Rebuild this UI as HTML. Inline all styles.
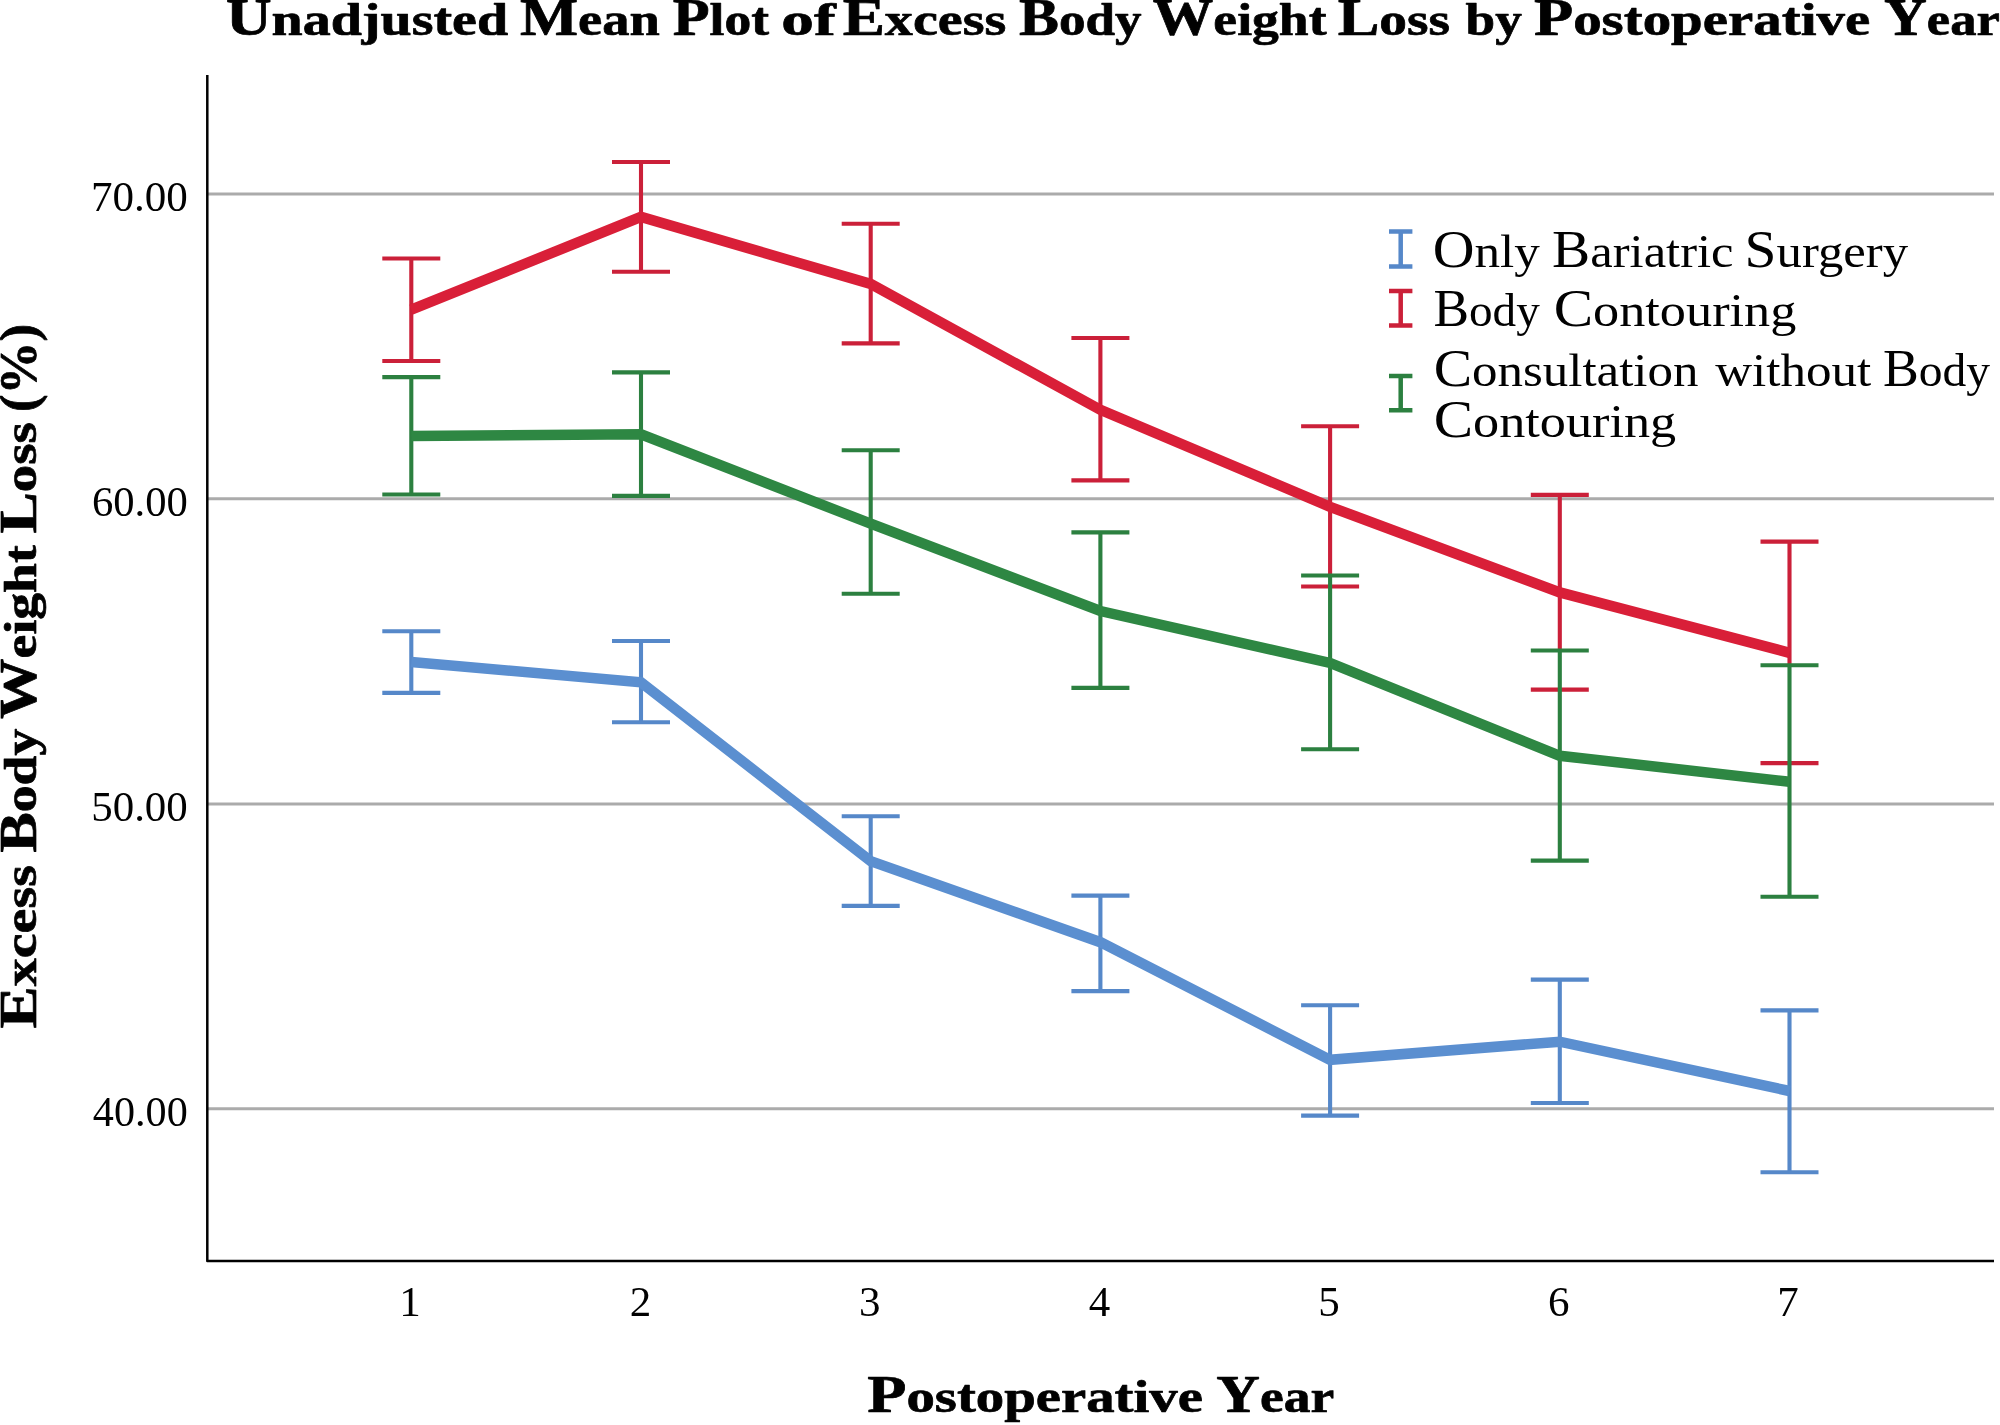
<!DOCTYPE html>
<html><head><meta charset="utf-8"><title>Unadjusted Mean Plot of Excess Body Weight Loss by Postoperative Year</title>
<style>
html,body{margin:0;padding:0;background:#fff;}
body{width:2000px;height:1425px;overflow:hidden;position:relative;font-family:"Liberation Serif",serif;}
</style></head><body>
<svg width="2000" height="1425" viewBox="0 0 2000 1425" style="position:absolute;left:0;top:0">
<rect width="2000" height="1425" fill="#fff"/>
<line x1="208" y1="194.0" x2="1994" y2="194.0" stroke="#ababab" stroke-width="3.1"/>
<line x1="208" y1="498.8" x2="1994" y2="498.8" stroke="#ababab" stroke-width="3.1"/>
<line x1="208" y1="804.0" x2="1994" y2="804.0" stroke="#ababab" stroke-width="3.1"/>
<line x1="208" y1="1108.7" x2="1994" y2="1108.7" stroke="#ababab" stroke-width="3.1"/>
<path d="M382.30 631.20H440.30M382.30 692.90H440.30M411.30 631.20V692.90" stroke="#5688c9" stroke-width="4.1" fill="none"/>
<path d="M612.00 641.00H670.00M612.00 722.30H670.00M641.00 641.00V722.30" stroke="#5688c9" stroke-width="4.1" fill="none"/>
<path d="M841.70 816.30H899.70M841.70 905.90H899.70M870.70 816.30V905.90" stroke="#5688c9" stroke-width="4.1" fill="none"/>
<path d="M1071.40 895.60H1129.40M1071.40 991.10H1129.40M1100.40 895.60V991.10" stroke="#5688c9" stroke-width="4.1" fill="none"/>
<path d="M1301.10 1005.20H1359.10M1301.10 1115.60H1359.10M1330.10 1005.20V1115.60" stroke="#5688c9" stroke-width="4.1" fill="none"/>
<path d="M1530.80 979.60H1588.80M1530.80 1103.00H1588.80M1559.80 979.60V1103.00" stroke="#5688c9" stroke-width="4.1" fill="none"/>
<path d="M1760.50 1010.40H1818.50M1760.50 1172.30H1818.50M1789.50 1010.40V1172.30" stroke="#5688c9" stroke-width="4.1" fill="none"/>
<path d="M382.30 258.50H440.30M382.30 361.00H440.30M411.30 258.50V361.00" stroke="#cb2039" stroke-width="4.1" fill="none"/>
<path d="M612.00 162.00H670.00M612.00 271.80H670.00M641.00 162.00V271.80" stroke="#cb2039" stroke-width="4.1" fill="none"/>
<path d="M841.70 223.70H899.70M841.70 343.40H899.70M870.70 223.70V343.40" stroke="#cb2039" stroke-width="4.1" fill="none"/>
<path d="M1071.40 338.00H1129.40M1071.40 480.40H1129.40M1100.40 338.00V480.40" stroke="#cb2039" stroke-width="4.1" fill="none"/>
<path d="M1301.10 426.30H1359.10M1301.10 586.50H1359.10M1330.10 426.30V575.50" stroke="#cb2039" stroke-width="4.1" fill="none"/>
<path d="M1530.80 494.90H1588.80M1530.80 689.60H1588.80M1559.80 494.90V650.50" stroke="#cb2039" stroke-width="4.1" fill="none"/>
<path d="M1760.50 541.60H1818.50M1760.50 763.10H1818.50M1789.50 541.60V665.30" stroke="#cb2039" stroke-width="4.1" fill="none"/>
<path d="M382.30 377.10H440.30M382.30 494.50H440.30M411.30 377.10V494.50" stroke="#2c8040" stroke-width="4.1" fill="none"/>
<path d="M612.00 372.40H670.00M612.00 495.90H670.00M641.00 372.40V495.90" stroke="#2c8040" stroke-width="4.1" fill="none"/>
<path d="M841.70 450.30H899.70M841.70 593.80H899.70M870.70 450.30V593.80" stroke="#2c8040" stroke-width="4.1" fill="none"/>
<path d="M1071.40 532.40H1129.40M1071.40 687.90H1129.40M1100.40 532.40V687.90" stroke="#2c8040" stroke-width="4.1" fill="none"/>
<path d="M1301.10 575.50H1359.10M1301.10 749.30H1359.10M1330.10 575.50V749.30" stroke="#2c8040" stroke-width="4.1" fill="none"/>
<path d="M1530.80 650.50H1588.80M1530.80 860.60H1588.80M1559.80 650.50V860.60" stroke="#2c8040" stroke-width="4.1" fill="none"/>
<path d="M1760.50 665.30H1818.50M1760.50 896.70H1818.50M1789.50 665.30V896.70" stroke="#2c8040" stroke-width="4.1" fill="none"/>
<polyline points="411.30,662.00 641.00,682.30 870.70,861.20 1100.40,942.20 1330.10,1059.80 1559.80,1041.70 1789.50,1091.00" stroke="#5b8fd0" stroke-width="10.5" fill="none" stroke-linejoin="miter" stroke-miterlimit="10" stroke-linecap="butt"/>
<polyline points="411.30,436.10 641.00,434.30 870.70,523.70 1100.40,611.00 1330.10,663.00 1559.80,755.80 1789.50,781.80" stroke="#2e8743" stroke-width="10.5" fill="none" stroke-linejoin="miter" stroke-miterlimit="10" stroke-linecap="butt"/>
<polyline points="411.30,309.70 641.00,216.90 870.70,284.00 1100.40,409.80 1330.10,506.80 1559.80,592.40 1789.50,652.80" stroke="#d91f38" stroke-width="10.5" fill="none" stroke-linejoin="miter" stroke-miterlimit="10" stroke-linecap="butt"/>
<path d="M207.3 75V1261H1994" stroke="#000" stroke-width="2.5" fill="none" stroke-linejoin="round"/>
<g opacity="0.999">
<text transform="translate(225.92 35.00) scale(1.2044 1.0)" font-family="Liberation Serif, serif" font-weight="bold" stroke="#000" stroke-width="0.7" stroke-linejoin="round"><tspan font-size="52.5">U</tspan><tspan font-size="46.5">nadjusted</tspan></text>
<text transform="translate(519.92 35.00) scale(1.1726 1.0)" font-family="Liberation Serif, serif" font-weight="bold" stroke="#000" stroke-width="0.7" stroke-linejoin="round"><tspan font-size="52.5">M</tspan><tspan font-size="46.5">ean</tspan></text>
<text transform="translate(672.69 35.00) scale(1.1510 1.0)" font-family="Liberation Serif, serif" font-weight="bold" stroke="#000" stroke-width="0.7" stroke-linejoin="round"><tspan font-size="52.5">P</tspan><tspan font-size="46.5">lot</tspan></text>
<text transform="translate(781.30 35.00) scale(1.4025 1.0)" font-family="Liberation Serif, serif" font-weight="bold" font-size="46.5" stroke="#000" stroke-width="0.7" stroke-linejoin="round">of</text>
<text transform="translate(842.64 35.00) scale(1.2058 1.0)" font-family="Liberation Serif, serif" font-weight="bold" stroke="#000" stroke-width="0.7" stroke-linejoin="round"><tspan font-size="52.5">E</tspan><tspan font-size="46.5">xcess</tspan></text>
<text transform="translate(1018.95 35.00) scale(1.1403 1.0)" font-family="Liberation Serif, serif" font-weight="bold" stroke="#000" stroke-width="0.7" stroke-linejoin="round"><tspan font-size="52.5">B</tspan><tspan font-size="46.5">ody</tspan></text>
<text transform="translate(1152.84 35.00) scale(1.1531 1.0)" font-family="Liberation Serif, serif" font-weight="bold" stroke="#000" stroke-width="0.7" stroke-linejoin="round"><tspan font-size="52.5">W</tspan><tspan font-size="46.5">eight</tspan></text>
<text transform="translate(1337.66 35.00) scale(1.1898 1.0)" font-family="Liberation Serif, serif" font-weight="bold" stroke="#000" stroke-width="0.7" stroke-linejoin="round"><tspan font-size="52.5">L</tspan><tspan font-size="46.5">oss</tspan></text>
<text transform="translate(1465.58 35.00) scale(1.1456 1.0)" font-family="Liberation Serif, serif" font-weight="bold" font-size="46.5" stroke="#000" stroke-width="0.7" stroke-linejoin="round">by</text>
<text transform="translate(1533.88 35.00) scale(1.2238 1.0)" font-family="Liberation Serif, serif" font-weight="bold" stroke="#000" stroke-width="0.7" stroke-linejoin="round"><tspan font-size="52.5">P</tspan><tspan font-size="46.5">ostoperative</tspan></text>
<text transform="translate(1883.96 35.00) scale(1.1309 1.0)" font-family="Liberation Serif, serif" font-weight="bold" stroke="#000" stroke-width="0.7" stroke-linejoin="round"><tspan font-size="52.5">Y</tspan><tspan font-size="46.5">ear</tspan></text>
<text transform="translate(867.28 1412.00) scale(1.2214 1.0)" font-family="Liberation Serif, serif" font-weight="bold" stroke="#000" stroke-width="0.7" stroke-linejoin="round"><tspan font-size="52.5">P</tspan><tspan font-size="46.5">ostoperative</tspan></text>
<text transform="translate(1216.24 1412.00) scale(1.1513 1.0)" font-family="Liberation Serif, serif" font-weight="bold" stroke="#000" stroke-width="0.7" stroke-linejoin="round"><tspan font-size="52.5">Y</tspan><tspan font-size="46.5">ear</tspan></text>
<text transform="translate(35.80 1028.51) rotate(-90) scale(1.2047 1.0)" font-family="Liberation Serif, serif" font-weight="bold" stroke="#000" stroke-width="0.7" stroke-linejoin="round"><tspan font-size="52.5">E</tspan><tspan font-size="46.5">xcess</tspan></text>
<text transform="translate(35.80 852.56) rotate(-90) scale(1.1525 1.0)" font-family="Liberation Serif, serif" font-weight="bold" stroke="#000" stroke-width="0.7" stroke-linejoin="round"><tspan font-size="52.5">B</tspan><tspan font-size="46.5">ody</tspan></text>
<text transform="translate(35.80 718.91) rotate(-90) scale(1.1531 1.0)" font-family="Liberation Serif, serif" font-weight="bold" stroke="#000" stroke-width="0.7" stroke-linejoin="round"><tspan font-size="52.5">W</tspan><tspan font-size="46.5">eight</tspan></text>
<text transform="translate(35.80 533.59) rotate(-90) scale(1.1811 1.0)" font-family="Liberation Serif, serif" font-weight="bold" stroke="#000" stroke-width="0.7" stroke-linejoin="round"><tspan font-size="52.5">L</tspan><tspan font-size="46.5">oss</tspan></text>
<text transform="translate(35.80 411.98) rotate(-90) scale(1.0070 1.0)" font-family="Liberation Serif, serif" font-weight="bold" font-size="52.5" stroke="#000" stroke-width="0.7" stroke-linejoin="round">(%)</text>
<text transform="translate(90.90 211.30) scale(1.0017 1.0)" font-family="Liberation Serif, serif" font-size="43">70.00</text>
<text transform="translate(91.89 516.10) scale(0.9913 1.0)" font-family="Liberation Serif, serif" font-size="43">60.00</text>
<text transform="translate(91.23 821.30) scale(0.9982 1.0)" font-family="Liberation Serif, serif" font-size="43">50.00</text>
<text transform="translate(92.86 1126.00) scale(0.9811 1.0)" font-family="Liberation Serif, serif" font-size="43">40.00</text>
<text transform="translate(399.16 1315.80) scale(1.0000 1.0)" font-family="Liberation Serif, serif" font-size="43">1</text>
<text transform="translate(629.66 1315.80) scale(1.0000 1.0)" font-family="Liberation Serif, serif" font-size="43">2</text>
<text transform="translate(858.99 1315.80) scale(1.0000 1.0)" font-family="Liberation Serif, serif" font-size="43">3</text>
<text transform="translate(1088.74 1315.80) scale(1.0000 1.0)" font-family="Liberation Serif, serif" font-size="43">4</text>
<text transform="translate(1318.17 1315.80) scale(1.0000 1.0)" font-family="Liberation Serif, serif" font-size="43">5</text>
<text transform="translate(1547.98 1315.80) scale(1.0000 1.0)" font-family="Liberation Serif, serif" font-size="43">6</text>
<text transform="translate(1777.20 1315.80) scale(1.0000 1.0)" font-family="Liberation Serif, serif" font-size="43">7</text>
<path d="M1389.0 231.6H1412.4M1389.0 266.4H1412.4M1400.7 231.6V266.4" stroke="#5688c9" stroke-width="4.5" fill="none"/>
<path d="M1389.0 290.9H1412.4M1389.0 325.5H1412.4M1400.7 290.9V325.5" stroke="#cb2039" stroke-width="4.5" fill="none"/>
<path d="M1389.0 375.9H1412.4M1389.0 410.2H1412.4M1400.7 375.9V410.2" stroke="#2c8040" stroke-width="4.5" fill="none"/>
<text transform="translate(1432.69 267.30) scale(1.1116 1.0)" font-family="Liberation Serif, serif"><tspan font-size="52.0">O</tspan><tspan font-size="46.0">nly</tspan></text>
<text transform="translate(1552.08 267.30) scale(1.1005 1.0)" font-family="Liberation Serif, serif"><tspan font-size="52.0">B</tspan><tspan font-size="46.0">ariatric</tspan></text>
<text transform="translate(1744.62 267.30) scale(1.1043 1.0)" font-family="Liberation Serif, serif"><tspan font-size="52.0">S</tspan><tspan font-size="46.0">urgery</tspan></text>
<text transform="translate(1433.40 326.40) scale(1.0256 1.0)" font-family="Liberation Serif, serif"><tspan font-size="52.0">B</tspan><tspan font-size="46.0">ody</tspan></text>
<text transform="translate(1553.64 326.40) scale(1.1368 1.0)" font-family="Liberation Serif, serif"><tspan font-size="52.0">C</tspan><tspan font-size="46.0">ontouring</tspan></text>
<text transform="translate(1433.70 385.80) scale(1.1075 1.0)" font-family="Liberation Serif, serif"><tspan font-size="52.0">C</tspan><tspan font-size="46.0">onsultation</tspan></text>
<text transform="translate(1715.20 385.80) scale(1.1105 1.0)" font-family="Liberation Serif, serif" font-size="46.0">without</text>
<text transform="translate(1882.99 385.80) scale(1.0334 1.0)" font-family="Liberation Serif, serif"><tspan font-size="52.0">B</tspan><tspan font-size="46.0">ody</tspan></text>
<text transform="translate(1433.64 437.30) scale(1.1363 1.0)" font-family="Liberation Serif, serif"><tspan font-size="52.0">C</tspan><tspan font-size="46.0">ontouring</tspan></text>
</g>
</svg>
</body></html>
